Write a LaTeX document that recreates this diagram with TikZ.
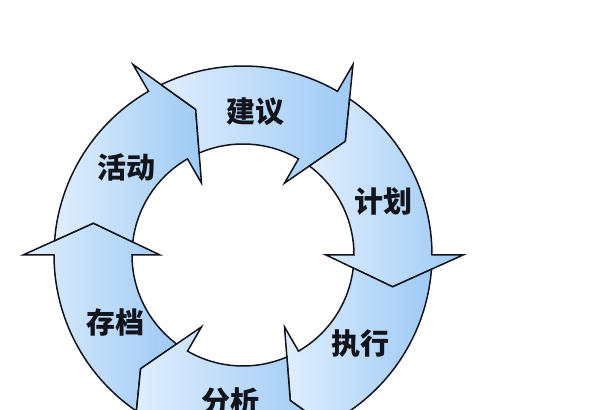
\documentclass[tikz,border=0pt]{standalone}
\usepackage{fontspec}
\newfontfamily\cjk{Noto Sans CJK SC}
\definecolor{ringlight}{RGB}{224,238,253}
\definecolor{ringdark}{RGB}{158,202,245}
\definecolor{ringline}{RGB}{18,20,28}

\begin{document}
\begin{tikzpicture}[x=1pt,y=1pt]

    \tikzset{
      cyclearrow/.style={
        draw=ringline,
        line width=1.5pt,
        line join=miter,
        left color=ringlight,
        right color=ringdark,
      },
      cyclelabel/.style={
        text=ringline,
        font=\cjk\bfseries\fontsize{29}{29}\selectfont,
        anchor=center,
        inner sep=0pt,
      },
    }
    \useasboundingbox (0,0) rectangle (590,410);
    \clip (0,0) rectangle (590,410);
    \begin{scope}[shift={(243,155)}]
	\foreach \h in {180,120,60,0,-60,-120}
	  \draw[cyclearrow] ({\h+55.67}:189) arc[start angle={\h+55.67}, end angle=\h, radius=189]
	    -- (\h:220) -- ({\h-12}:153) -- (\h:83) -- (\h:111)
	    arc[start angle=\h, end angle={\h+53.28}, radius=111] -- ({\h+48}:153) -- cycle;
	\node[cyclelabel] (jianyi) at (85:144) {建议};
	\node[cyclelabel] (jihua) at (21:150) {计划};
	\node[cyclelabel] (zhixing) at (-37:147) {执行};
	\node[cyclelabel] (fenxi) at (-95:147) {分析};
	\node[cyclelabel] (cundang) at (208:144) {存档};
	\node[cyclelabel] (huodong) at (143:146) {活动};
    \end{scope}

\end{tikzpicture}
\end{document}
